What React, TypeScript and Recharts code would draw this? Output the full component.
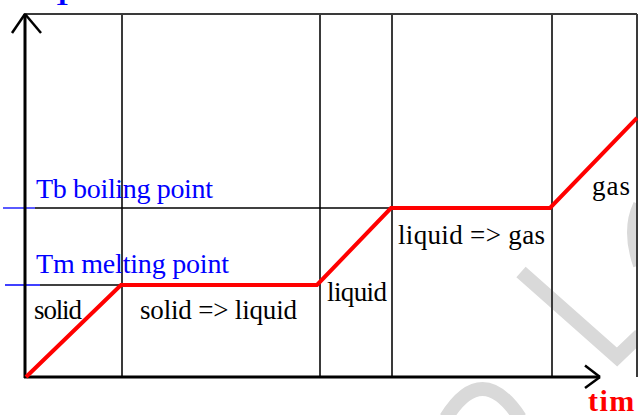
import React from "react";
import { LineChart, Line, XAxis, YAxis, ReferenceLine } from "recharts";

// heating curve data (time units, temperature units)
const time = [0, 9.5, 29.1, 36.5, 52.4, 61.1];
const temperature = [0, 18.4, 18.4, 33.8, 33.8, 51.8];
const phaseBoundaries = [9.6, 29.4, 36.6, 52.6, 61.1];
const meltingPoint = 18.4;
const boilingPoint = 33.8;
const phaseLabels = ["solid", "solid => liquid", "liquid", "liquid => gas", "gas"];
const levelLabels = ["Tb boiling point", "Tm melting point"];
const axisLabels = ["T", "tim"];

const data = time.map((t, i) => ({ t, T: temperature[i] }));

const W = 638;
const H = 415;
const SERIF = "Liberation Serif, DejaVu Serif, serif";

// annotation layout (pixels)
const phaseLabelPos = [
  { x: 34, y: 319, w: 48 },
  { x: 140, y: 319, w: 157 },
  { x: 327, y: 301, w: 60 },
  { x: 398, y: 244, w: 147 },
  { x: 592, y: 195, w: 38 },
];
const levelLabelPos = [
  { x: 36, y: 198, w: 177 },
  { x: 36, y: 273, w: 193 },
];

export default function App() {
  const axisStroke = "#000";
  return (
    <div style={{ position: "absolute", left: 0, top: 0, width: W, height: H, background: "#fff" }}>
      {/* faint watermark */}
      <svg width={W} height={H} style={{ position: "absolute", left: 0, top: 0 }}>
        <g stroke="#d9d9d9" strokeWidth={14} fill="none">
          <polyline points="521,272 617,357 640,335" />
          <path d="M 640 205 Q 628 230 640 265" />
          <path d="M 446 418 Q 482 360 520 418" />
        </g>
      </svg>
      <div style={{ position: "absolute", left: 0, top: 0 }}>
        <LineChart width={W} height={H} data={data} margin={{ top: 14, right: 1, bottom: 38, left: 26 }}>
          <XAxis dataKey="t" type="number" domain={[0, 61.1]} hide />
          <YAxis type="number" domain={[0, 72.6]} hide />
          {/* top border */}
          <ReferenceLine
            segment={[{ x: -0.2, y: 72.6 }, { x: 61.1, y: 72.6 }]}
            stroke="#3a3a3a"
            strokeWidth={2}
            ifOverflow="visible"
          />
          {phaseBoundaries.map((b) => (
            <ReferenceLine key={b} x={b} stroke="#3a3a3a" strokeWidth={2} ifOverflow="visible" />
          ))}
          {/* boiling / melting levels */}
          <ReferenceLine
            segment={[{ x: 0.9, y: boilingPoint }, { x: 36.6, y: boilingPoint }]}
            stroke="#000"
            strokeWidth={1.3}
            ifOverflow="visible"
          />
          <ReferenceLine
            segment={[{ x: -2.3, y: boilingPoint }, { x: 0.9, y: boilingPoint }]}
            stroke="#0000ff"
            strokeWidth={1.3}
            ifOverflow="visible"
          />
          <ReferenceLine
            segment={[{ x: 1.4, y: meltingPoint }, { x: 9.6, y: meltingPoint }]}
            stroke="#000"
            strokeWidth={1.3}
            ifOverflow="visible"
          />
          <ReferenceLine
            segment={[{ x: -2.1, y: meltingPoint }, { x: 1.4, y: meltingPoint }]}
            stroke="#0000ff"
            strokeWidth={1.3}
            ifOverflow="visible"
          />
          {/* axes with arrowheads */}
          <ReferenceLine
            segment={[{ x: -0.1, y: -0.2 }, { x: -0.1, y: 72.6 }]}
            stroke={axisStroke}
            strokeWidth={3}
            ifOverflow="visible"
          />
          <ReferenceLine
            segment={[{ x: -1.4, y: 68.8 }, { x: -0.1, y: 72.6 }]}
            stroke={axisStroke}
            strokeWidth={2.5}
            ifOverflow="visible"
          />
          <ReferenceLine
            segment={[{ x: 1.5, y: 68.8 }, { x: -0.1, y: 72.6 }]}
            stroke={axisStroke}
            strokeWidth={2.5}
            ifOverflow="visible"
          />
          <ReferenceLine
            segment={[{ x: -0.2, y: 0 }, { x: 57.4, y: 0 }]}
            stroke={axisStroke}
            strokeWidth={3}
            ifOverflow="visible"
          />
          <ReferenceLine
            segment={[{ x: 55.9, y: 2.3 }, { x: 57.4, y: 0 }]}
            stroke={axisStroke}
            strokeWidth={2.5}
            ifOverflow="visible"
          />
          <ReferenceLine
            segment={[{ x: 55.9, y: -2.2 }, { x: 57.4, y: 0 }]}
            stroke={axisStroke}
            strokeWidth={2.5}
            ifOverflow="visible"
          />
          <Line
            dataKey="T"
            stroke="#ff0000"
            strokeWidth={4}
            dot={false}
            activeDot={false}
            isAnimationActive={false}
            strokeLinejoin="miter"
          />
        </LineChart>
      </div>
      <svg width={W} height={H} style={{ position: "absolute", left: 0, top: 0, pointerEvents: "none" }}>
        {levelLabels.map((s, i) => (
          <text
            key={s}
            x={levelLabelPos[i].x}
            y={levelLabelPos[i].y}
            textLength={levelLabelPos[i].w}
            lengthAdjust="spacing"
            style={{ fontFamily: SERIF, fontSize: 28 }}
            fill="#0000ff"
          >
            {s}
          </text>
        ))}
        {phaseLabels.map((s, i) => (
          <text
            key={s}
            x={phaseLabelPos[i].x}
            y={phaseLabelPos[i].y}
            textLength={phaseLabelPos[i].w}
            lengthAdjust="spacing"
            style={{ fontFamily: SERIF, fontSize: 27 }}
            fill="#000"
          >
            {s}
          </text>
        ))}
        <text x={53} y={5} style={{ fontFamily: SERIF, fontSize: 28, fontWeight: "bold" }} fill="#0000ff">
          {axisLabels[0]}
        </text>
        <text
          x={588}
          y={411}
          style={{ fontFamily: SERIF, fontSize: 30, fontWeight: "bold", letterSpacing: 1.5 }}
          fill="#ff0000"
        >
          {axisLabels[1]}
        </text>
      </svg>
    </div>
  );
}
